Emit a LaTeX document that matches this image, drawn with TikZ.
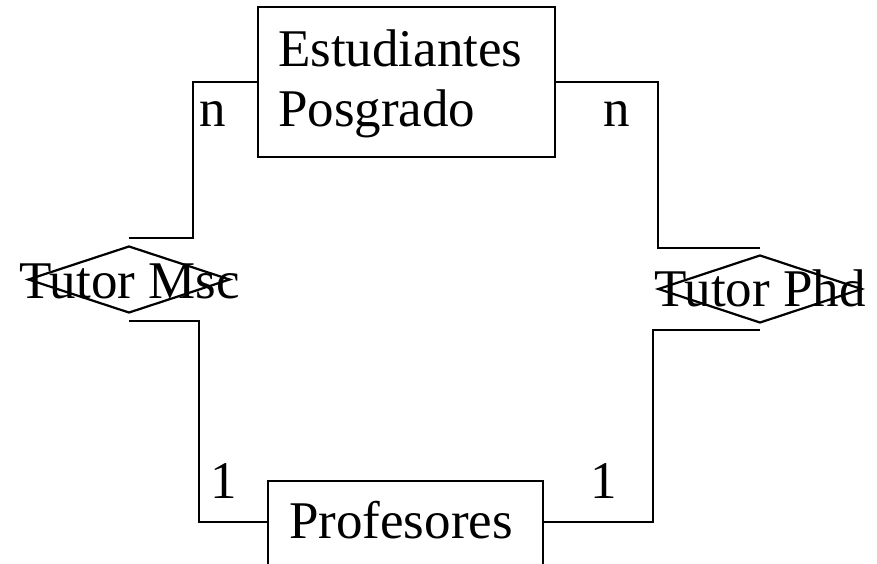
\documentclass[tikz,border=0pt]{standalone}
\usepackage{fontspec}
\setmainfont{Liberation Serif}
\usetikzlibrary{shapes.geometric}
\begin{document}
\begin{tikzpicture}[x=1pt,y=-1pt,
  line width=2.2pt,
  entity/.style={draw, rectangle, inner sep=0pt},
  relation/.style={draw, diamond, inner sep=0pt},
  txt/.style={inner sep=0pt, font=\fontsize{53}{60}\selectfont},
  conn/.style={draw, line width=2.2pt}]
\useasboundingbox (0,0) rectangle (877,564);
\clip (0,0) rectangle (877,564);
% entities
\node[entity, minimum width=297pt, minimum height=150pt] (est) at (406.5,82) {};
\node[txt, anchor=base west] (estA) at (277,67) {Estudiantes};
\node[txt, anchor=base west] (estB) at (277,127) {Posgrado};
\node[entity, minimum width=275pt, minimum height=119pt] (prof) at (405.5,540.5) {};
\node[txt, anchor=base west] (profT) at (288,538) {Profesores};
% relations
\node[relation, minimum width=202pt, minimum height=67pt] (msc) at (129,279.5) {};
\node[txt, anchor=base] (mscT) at (129.5,298) {Tutor Msc};
\node[relation, minimum width=204pt, minimum height=68pt] (phd) at (760,289) {};
\node[txt, anchor=base] (phdT) at (760,306) {Tutor Phd};
% connectors
\draw[conn] (est.west) -- ++(-64,0) |- ([yshift=7pt]msc.north);
\draw[conn] ([yshift=-7pt]msc.south) -- ++(70,0) |- ([yshift=18.5pt]prof.west);
\draw[conn] (est.east) -- ++(102,0) |- ([yshift=6pt]phd.north);
\draw[conn] ([yshift=18.5pt]prof.east) -- ++(109,0) |- ([yshift=-6pt]phd.south);
% cardinalities
\node[txt, anchor=base west] (n1) at (198,127) {n};
\node[txt, anchor=base west] (n2) at (602,127) {n};
\node[txt, anchor=base west] (o1) at (209,498) {1};
\node[txt, anchor=base west] (o2) at (589,498) {1};
\end{tikzpicture}
\end{document}
